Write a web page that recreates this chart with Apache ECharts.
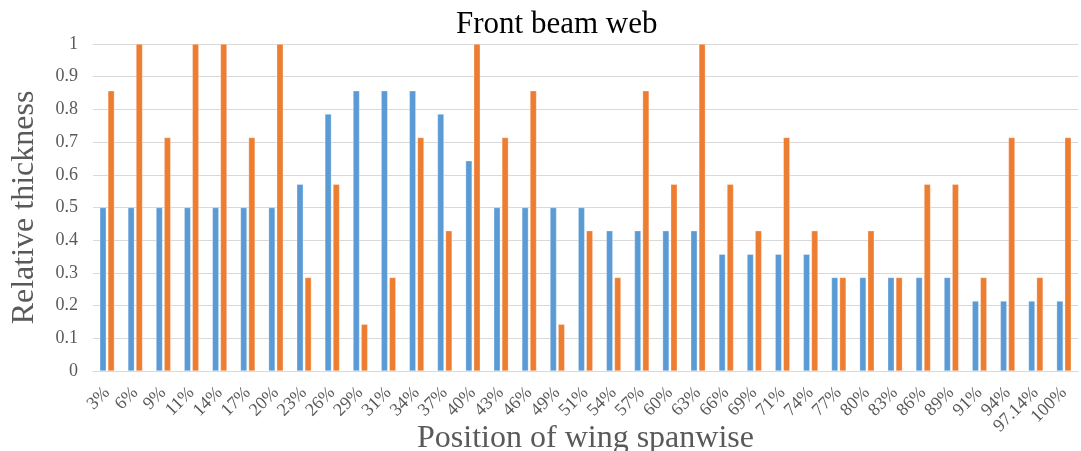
<!DOCTYPE html>
<html><head><meta charset="utf-8">
<script src="https://cdn.jsdelivr.net/npm/echarts@6/dist/echarts.min.js"></script>
<style>html,body{margin:0;padding:0;background:#fff}#c{width:1081px;height:451px}</style>
</head><body><div id="c"></div>
<script>
var categories = ['3%','6%','9%','11%','14%','17%','20%','23%','26%','29%','31%','34%','37%','40%','43%','46%','49%','51%','54%','57%','60%','63%','66%','69%','71%','74%','77%','80%','83%','86%','89%','91%','94%','97.14%','100%'];
var seriesBlue = [0.5,0.5,0.5,0.5,0.5,0.5,0.5,0.571,0.786,0.857,0.857,0.857,0.786,0.643,0.5,0.5,0.5,0.5,0.429,0.429,0.429,0.429,0.357,0.357,0.357,0.357,0.286,0.286,0.286,0.286,0.286,0.214,0.214,0.214,0.214];
var seriesOrange = [0.857,1,0.714,1,1,0.714,1,0.286,0.571,0.143,0.286,0.714,0.429,1,0.714,0.857,0.143,0.429,0.286,0.857,0.571,1,0.571,0.429,0.714,0.429,0.286,0.429,0.286,0.571,0.571,0.286,0.714,0.286,0.714];
var yTicks = [0,0.1,0.2,0.3,0.4,0.5,0.6,0.7,0.8,0.9,1];

var chart = echarts.init(document.getElementById('c'));
var serif = '"Liberation Serif", "DejaVu Serif", serif';
chart.setOption({
  animation: false,
  title: {
    text: 'Front beam web', left: 451, top: 4,
    textStyle: {fontFamily: serif, fontSize: 31, fontWeight: 'normal', color: '#000'}
  },
  grid: {left: 93, right: 3, top: 44, bottom: 80, containLabel: false, outerBoundsMode: 'none'},
  xAxis: {
    type: 'category', data: categories,
    axisLine: {lineStyle: {color: '#d9d9d9', width: 1}},
    axisTick: {show: false},
    axisLabel: {rotate: 45, interval: 0, margin: 19, fontFamily: serif, fontSize: 18, color: '#595959'},
    name: 'Position of wing spanwise', nameLocation: 'middle', nameGap: 52, nameMoveOverlap: false,
    nameTextStyle: {fontFamily: serif, fontSize: 32, color: '#595959'}
  },
  yAxis: {
    type: 'value', min: 0, max: 1, interval: 0.1,
    axisLine: {show: false}, axisTick: {show: false},
    splitLine: {lineStyle: {color: '#d9d9d9', width: 1}},
    axisLabel: {margin: 15, fontFamily: serif, fontSize: 18, color: '#595959',
      formatter: function(v){ var t = yTicks.find(function(x){return Math.abs(x-v)<1e-9;}); return t===undefined?'':String(t); }},
    name: 'Relative thickness', nameLocation: 'middle', nameGap: 52, nameMoveOverlap: false,
    nameTextStyle: {fontFamily: serif, fontSize: 32, color: '#595959'}
  },
  series: [
    {type: 'bar', data: seriesBlue, barWidth: 6.5, barGap: '25%',
     itemStyle: {color: '#5B9BD5', borderColor: 'rgba(255,255,255,0.6)', borderWidth: 0.5}},
    {type: 'bar', data: seriesOrange, barWidth: 6.5,
     itemStyle: {color: '#ED7D31', borderColor: 'rgba(255,255,255,0.6)', borderWidth: 0.5}}
  ]
});
</script></body></html>
